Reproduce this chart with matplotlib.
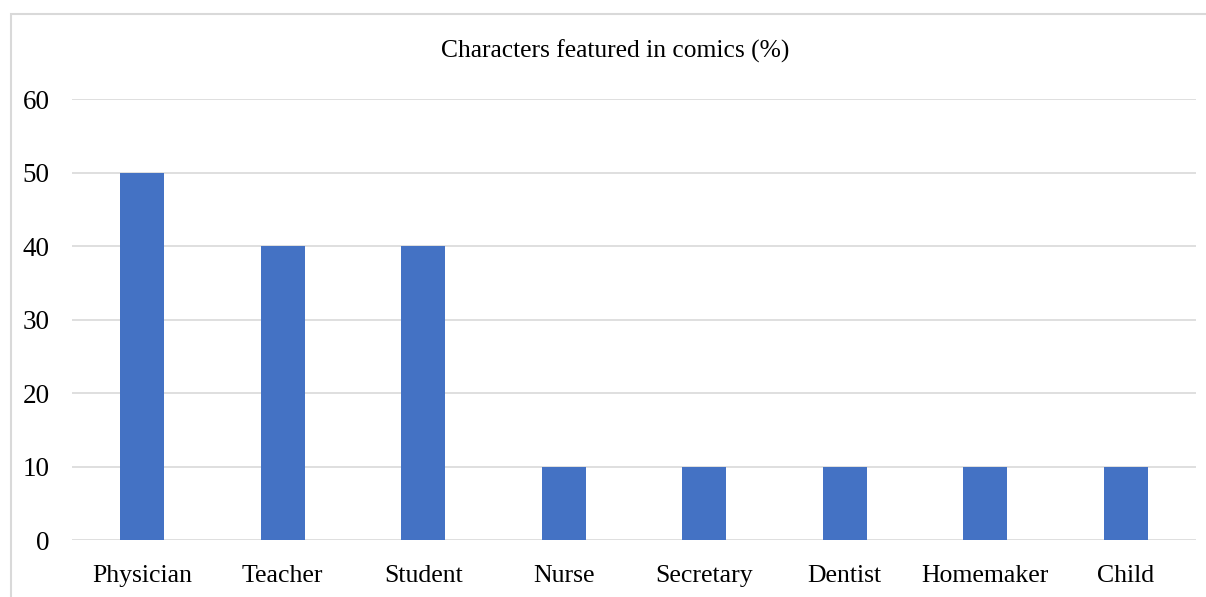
import matplotlib.pyplot as plt
from matplotlib.patches import Rectangle

categories = ["Physician", "Teacher", "Student", "Nurse", "Secretary", "Dentist", "Homemaker", "Child"]
values = [50, 40, 40, 10, 10, 10, 10, 10]
yticks = [0, 10, 20, 30, 40, 50, 60]

plt.rcParams['font.family'] = ['Liberation Serif', 'DejaVu Serif']

W, H = 1206, 597
fig = plt.figure(figsize=(W / 100, H / 100), dpi=100)

# chart-area border (cut off at right and bottom in the reference)
fig.patches.append(Rectangle((11 / W, -0.05), 1.1, 1 - 14 / H + 0.05, transform=fig.transFigure,
                             fill=False, edgecolor="#d9d9d9", linewidth=1.5))

ax = fig.add_axes([72 / W, 1 - 540 / H, (1196 - 72) / W, (540 - 99) / H])
x = range(len(categories))
ax.bar(x, values, width=0.313, color="#4472C4", zorder=3)

ax.set_xlim(-0.5, len(categories) - 0.5)
ax.set_ylim(0, 60)
ax.set_yticks(yticks)
ax.set_xticks(list(x))
ax.set_xticklabels(categories)
ax.grid(axis="y", color="#d9d9d9", linewidth=1.2, zorder=0)
for s in ax.spines.values():
    s.set_visible(False)
ax.tick_params(axis="both", length=0, labelsize=18.5, colors="black")
ax.tick_params(axis="y", pad=16, labelsize=19.5)
ax.tick_params(axis="x", pad=18)

fig.text(615 / W, 1 - 51 / H, "Characters featured in comics (%)", ha="center", va="center", fontsize=18.4)

fig.savefig("out.png", dpi=100)
